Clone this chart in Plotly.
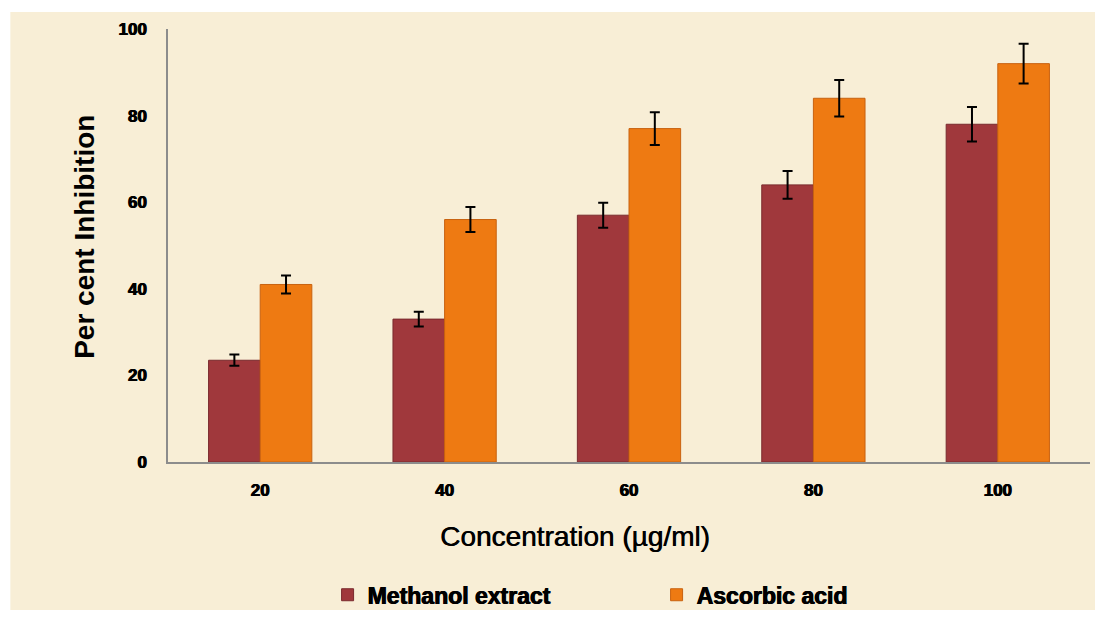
import plotly.graph_objects as go

categories = ["20", "40", "60", "80", "100"]
methanol = [23.5, 33, 57, 64, 78]
methanol_err = [1.3, 1.7, 2.9, 3.2, 4.0]
ascorbic = [41, 56, 77, 84, 92]
ascorbic_err = [2.1, 2.9, 3.8, 4.2, 4.6]

font_main = "Liberation Sans, Arial, sans-serif"
heavy = "0.6px 0px 0px black, -0.4px 0px 0px black"

fig = go.Figure()
fig.add_trace(go.Bar(
    x=categories, y=methanol, name="Methanol extract",
    marker=dict(color="#A0383C", line=dict(color="#7A2A2E", width=1)),
    error_y=dict(type="data", array=methanol_err, color="black", thickness=2, width=5),
))
fig.add_trace(go.Bar(
    x=categories, y=ascorbic, name="Ascorbic acid",
    marker=dict(color="#EE7A12", line=dict(color="#C86210", width=1)),
    error_y=dict(type="data", array=ascorbic_err, color="black", thickness=2, width=5),
))

fig.add_shape(type="rect", xref="paper", yref="paper",
              x0=-0.171, x1=1.0054, y0=-0.342, y1=1.039,
              fillcolor="#F8EED6", line=dict(width=0), layer="below")

fig.add_annotation(
    text="Concentration (µg/ml)", xref="paper", yref="paper",
    x=0.441, y=-0.173, xanchor="center", yanchor="middle", showarrow=False,
    font=dict(size=28, family=font_main, color="black", shadow="0.6px 0px 0px black"),
)
fig.add_annotation(
    text="<b>Per cent Inhibition</b>", xref="paper", yref="paper",
    x=-0.090, y=0.52, xanchor="center", yanchor="middle", showarrow=False,
    textangle=-90,
    font=dict(size=28, family=font_main, color="black"),
)

fig.update_layout(
    width=1103, height=617,
    margin=dict(l=168, r=13, t=29, b=155),
    paper_bgcolor="white",
    plot_bgcolor="rgba(0,0,0,0)",
    barmode="group",
    bargap=0.44,
    bargroupgap=0.0,
    font=dict(family=font_main, color="black"),
    xaxis=dict(
        showline=True, linecolor="#8C8C8C", linewidth=1.5,
        ticks="", showgrid=False,
        tickfont=dict(size=17, family=font_main, weight="bold", shadow=heavy),
        ticklabelstandoff=12,
    ),
    yaxis=dict(
        range=[0, 100], dtick=20,
        showline=True, linecolor="#8C8C8C", linewidth=1.5,
        ticks="", showgrid=False, zeroline=False,
        tickfont=dict(size=17, family=font_main, weight="bold", shadow=heavy),
        ticklabelstandoff=16,
    ),
    legend=dict(
        orientation="h", xref="container", yref="container",
        x=0.297, y=0.036, xanchor="left", yanchor="middle",
        font=dict(size=23, family=font_main, weight="bold", shadow=heavy),
        entrywidth=284, entrywidthmode="pixels",
        itemwidth=30,
        bgcolor="rgba(0,0,0,0)",
    ),
)

fig.write_html("out.html", config={"displayModeBar": False},
               post_script="document.body.style.margin='0px';")
